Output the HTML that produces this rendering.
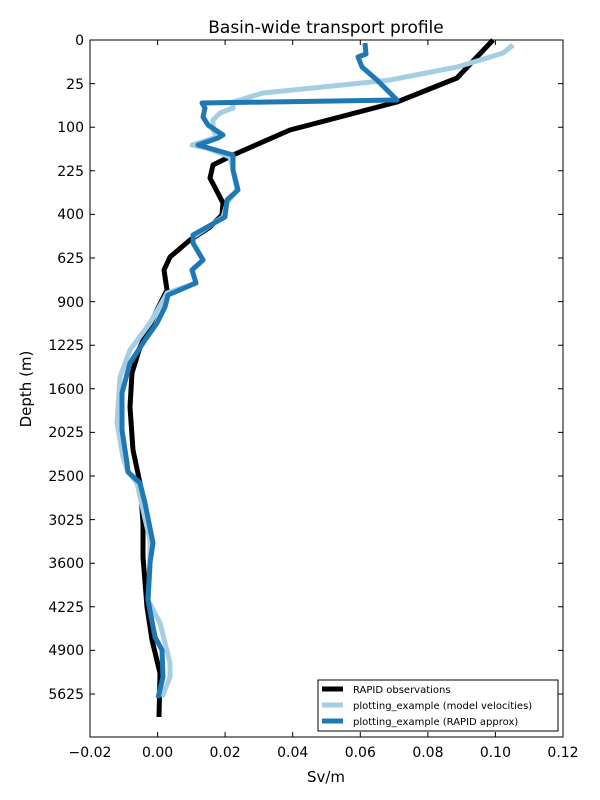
<!DOCTYPE html>
<html><head><meta charset="utf-8"><style>body{margin:0;background:#fff}svg{display:block}</style></head><body>
<svg width="600" height="800" xmlns="http://www.w3.org/2000/svg" font-family="DejaVu Sans, Liberation Sans, sans-serif">
<rect width="600" height="800" fill="#fff"/>
<g fill="none" stroke-linejoin="round" stroke-linecap="butt" stroke-width="5">
<polyline stroke="#000" points="493,40 457,78 397,102 290,130 233,155 213,165 210,178 223,203 222,215 210,227 190,240 170,257 164,270 167,290 157,310 140,347 132,373 130,407 133,450 140,483 143,523 143,557 147,607 152,640 160,673 159,717"/>
<polyline stroke="#a6cee3" points="513,45 503,53 487,58 457,67 390,80 323,87 263,93 233,102 233,108 220,113 213,120 213,130 217,137 192,145 207,148 230,157 233,170 237,190 227,203 223,217 193,237 193,243 203,260 192,270 196,283 167,293 165,297 150,323 130,350 120,377 117,423 123,457 127,470 137,483 143,510 150,540 150,567 148,600 160,623 170,663 170,677 162,697"/>
<polyline stroke="#1f78b4" points="365,43 366,54 358,57 362,67 377,80 397,100 202,103 205,108 203,117 208,125 223,135 218,138 198,145 233,155 233,162 233,170 238,190 227,200 225,217 193,235 193,243 203,260 192,270 196,283 168,295 165,307 157,323 145,340 130,363 122,393 122,430 127,463 128,472 140,483 145,503 153,543 150,563 148,600 155,637 162,650 163,677 158,698"/>
</g>
<rect x="90" y="40" width="473" height="697" fill="none" stroke="#000" stroke-width="1"/>
<g stroke="#000" stroke-width="1">
<path d="M157.6,737v-5M225.1,737v-5M292.7,737v-5M360.3,737v-5M427.9,737v-5M495.4,737v-5M157.6,40v5M225.1,40v5M292.7,40v5M360.3,40v5M427.9,40v5M495.4,40v5"/>
<path d="M90,83.6h5M90,127.2h5M90,170.8h5M90,214.4h5M90,258h5M90,301.6h5M90,345.2h5M90,388.8h5M90,432.4h5M90,476h5M90,519.6h5M90,563.2h5M90,606.8h5M90,650.4h5M90,694h5M563,83.6h-5M563,127.2h-5M563,170.8h-5M563,214.4h-5M563,258h-5M563,301.6h-5M563,345.2h-5M563,388.8h-5M563,432.4h-5M563,476h-5M563,519.6h-5M563,563.2h-5M563,606.8h-5M563,650.4h-5M563,694h-5"/>
</g>
<g font-size="14" fill="#000" text-anchor="middle">
<text x="90" y="757">−0.02</text><text x="157.6" y="757">0.00</text><text x="225.1" y="757">0.02</text><text x="292.7" y="757">0.04</text><text x="360.3" y="757">0.06</text><text x="427.9" y="757">0.08</text><text x="495.4" y="757">0.10</text><text x="563" y="757">0.12</text>
<text x="326" y="782" font-size="15">Sv/m</text>
<text x="326" y="33" font-size="17">Basin-wide transport profile</text>
</g>
<g font-size="14" fill="#000" text-anchor="end">
<text x="84" y="45">0</text><text x="84" y="89">25</text><text x="84" y="132">100</text><text x="84" y="176">225</text><text x="84" y="219">400</text><text x="84" y="263">625</text><text x="84" y="307">900</text><text x="84" y="350">1225</text><text x="84" y="394">1600</text><text x="84" y="437">2025</text><text x="84" y="481">2500</text><text x="84" y="525">3025</text><text x="84" y="568">3600</text><text x="84" y="612">4225</text><text x="84" y="655">4900</text><text x="84" y="699">5625</text>
</g>
<text transform="translate(31,389) rotate(-90)" font-size="15" text-anchor="middle">Depth (m)</text>
<rect x="318" y="680" width="240" height="51" fill="#fff" stroke="#000" stroke-width="1"/>
<g stroke-width="5"><path d="M322,689h21" stroke="#000"/><path d="M322,705h21" stroke="#a6cee3"/><path d="M322,721h21" stroke="#1f78b4"/></g>
<g font-size="10" fill="#000"><text x="353" y="693">RAPID observations</text><text x="353" y="709">plotting_example (model velocities)</text><text x="353" y="725">plotting_example (RAPID approx)</text></g>
</svg>
</body></html>
